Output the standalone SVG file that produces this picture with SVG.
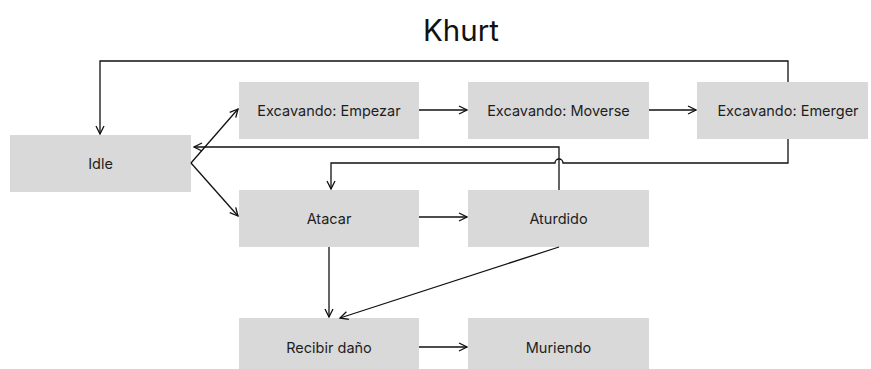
<svg xmlns="http://www.w3.org/2000/svg" width="871" height="369" viewBox="0 0 871 369">
<defs>
<marker id="ah" viewBox="0 0 10 10" refX="9" refY="5" markerWidth="10" markerHeight="10" markerUnits="userSpaceOnUse" orient="auto">
<path d="M1,1 L9,5 L1,9" fill="none" stroke="#111" stroke-width="1.3"/>
</marker>
<style>
.n rect{fill:#d9d9d9}
.n text{font-family:Inter,"Liberation Sans",sans-serif;font-size:14.5px;fill:#1e1e1e;text-anchor:middle;dominant-baseline:central}
.c path,.c line{fill:none;stroke:#111;stroke-width:1.3;marker-end:url(#ah)}
</style>
</defs>
<rect width="871" height="369" fill="#fff"/>
<text x="461" y="41" font-family="Inter,'Liberation Sans',sans-serif" font-size="29.5" fill="#111" text-anchor="middle">Khurt</text>
<g id="idle" class="n"><rect x="10" y="135" width="181" height="57"/><text x="100.5" y="163.5">Idle</text></g>
<g id="empezar" class="n"><rect x="239" y="82" width="180" height="57"/><text x="329" y="110.5">Excavando: Empezar</text></g>
<g id="moverse" class="n"><rect x="468" y="82" width="181" height="57"/><text x="558.5" y="110.5">Excavando: Moverse</text></g>
<g id="emerger" class="n"><rect x="697" y="82" width="171" height="57"/><text x="788" y="110.5">Excavando: Emerger</text></g>
<g id="atacar" class="n"><rect x="239" y="190" width="180" height="57"/><text x="329" y="218.5">Atacar</text></g>
<g id="aturdido" class="n"><rect x="468" y="190" width="181" height="57"/><text x="558.5" y="218.5">Aturdido</text></g>
<g id="recibir" class="n"><rect x="239" y="318" width="180" height="57"/><text x="329" y="347">Recibir daño</text></g>
<g id="muriendo" class="n"><rect x="468" y="318" width="181" height="57"/><text x="558.5" y="347">Muriendo</text></g>
<g id="connectors" class="c">
<path d="M788,82 V61 H100 V134"/>
<path d="M559,190 V147 H194"/>
<path d="M788,139 V163 H563 A4,4 0 0 0 555,163 H331 V189"/>
<line x1="191" y1="163" x2="238" y2="109"/>
<line x1="191" y1="163" x2="238" y2="216"/>
<line x1="419" y1="110" x2="467" y2="110"/>
<line x1="649" y1="110" x2="696" y2="110"/>
<line x1="419" y1="217" x2="467" y2="217"/>
<line x1="329" y1="247" x2="329" y2="317"/>
<line x1="559" y1="247" x2="340" y2="318"/>
<line x1="419" y1="347" x2="467" y2="347"/>
</g>
</svg>
